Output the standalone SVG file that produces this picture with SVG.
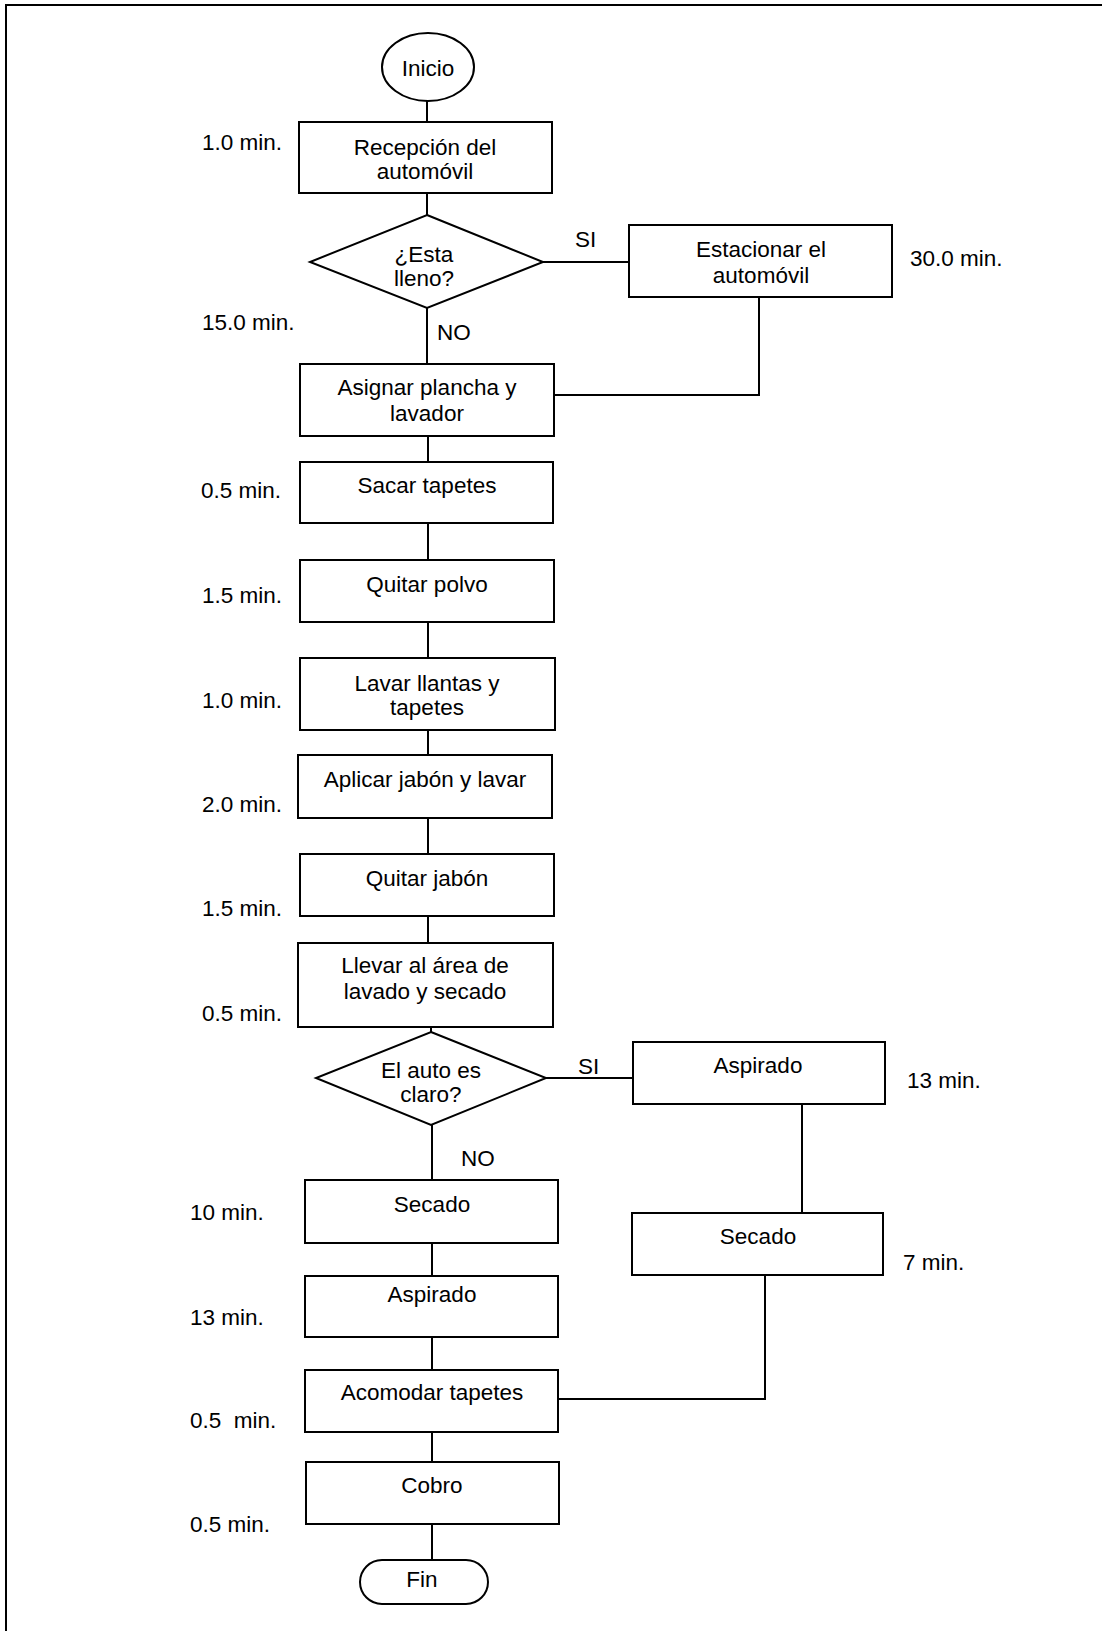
<svg xmlns="http://www.w3.org/2000/svg" width="1102" height="1631" viewBox="0 0 1102 1631">
<style>
.n{fill:#fff;stroke:#000;stroke-width:2}
.c{fill:none;stroke:#000;stroke-width:2}
text{font-family:"Liberation Sans",Arial,sans-serif;font-size:22.5px;fill:#000}
.m{text-anchor:middle}
</style>
<rect width="1102" height="1631" fill="#fff"/>
<g id="frame"><path class="c" d="M6,1631 V5 H1102" stroke-width="2.5"/></g>
<g id="connectors">
<path class="c" d="M427,100 V122"/>
<path class="c" d="M427,193 V215"/>
<path class="c" d="M543,262 H629"/>
<path class="c" d="M759,287 V395 H554"/>
<path class="c" d="M427,308 V364"/>
<path class="c" d="M428,436 V462"/>
<path class="c" d="M428,523 V560"/>
<path class="c" d="M428,622 V658"/>
<path class="c" d="M428,730 V755"/>
<path class="c" d="M428,818 V854"/>
<path class="c" d="M428,916 V943"/>
<path class="c" d="M431,1027 V1032"/>
<path class="c" d="M546,1078 H633"/>
<path class="c" d="M802,1104 V1213"/>
<path class="c" d="M765,1275 V1399 H558"/>
<path class="c" d="M432,1125 V1180"/>
<path class="c" d="M432,1243 V1276"/>
<path class="c" d="M432,1337 V1370"/>
<path class="c" d="M432,1432 V1462"/>
<path class="c" d="M432,1524 V1560"/>
</g>
<g id="inicio"><ellipse class="n" cx="428" cy="67" rx="46" ry="34"/><text class="m" x="428" y="76">Inicio</text></g>
<g id="recepcion"><rect class="n" x="299" y="122" width="253" height="71"/><text class="m" x="425" y="155">Recepción del</text><text class="m" x="425" y="179">automóvil</text></g>
<g id="lleno"><polygon class="n" points="427,215 543,262 427,308 310,262"/><text class="m" x="424" y="262">¿Esta</text><text class="m" x="424" y="286">lleno?</text></g>
<g id="estacionar"><rect class="n" x="629" y="225" width="263" height="72"/><text class="m" x="761" y="257">Estacionar el</text><text class="m" x="761" y="283">automóvil</text></g>
<g id="asignar"><rect class="n" x="300" y="364" width="254" height="72"/><text class="m" x="427" y="395">Asignar plancha y</text><text class="m" x="427" y="421">lavador</text></g>
<g id="sacar"><rect class="n" x="300" y="462" width="253" height="61"/><text class="m" x="427" y="493">Sacar tapetes</text></g>
<g id="polvo"><rect class="n" x="300" y="560" width="254" height="62"/><text class="m" x="427" y="592">Quitar polvo</text></g>
<g id="llantas"><rect class="n" x="300" y="658" width="255" height="72"/><text class="m" x="427" y="691">Lavar llantas y</text><text class="m" x="427" y="715">tapetes</text></g>
<g id="aplicar"><rect class="n" x="298" y="755" width="254" height="63"/><text class="m" x="425" y="787">Aplicar jabón y lavar</text></g>
<g id="quitarjabon"><rect class="n" x="300" y="854" width="254" height="62"/><text class="m" x="427" y="886">Quitar jabón</text></g>
<g id="llevar"><rect class="n" x="298" y="943" width="255" height="84"/><text class="m" x="425" y="973">Llevar al área de</text><text class="m" x="425" y="999">lavado y secado</text></g>
<g id="claro"><polygon class="n" points="431,1032 546,1078 431,1125 316,1078"/><text class="m" x="431" y="1078">El auto es</text><text class="m" x="431" y="1102">claro?</text></g>
<g id="aspirado2"><rect class="n" x="633" y="1042" width="252" height="62"/><text class="m" x="758" y="1073">Aspirado</text></g>
<g id="secado2"><rect class="n" x="632" y="1213" width="251" height="62"/><text class="m" x="758" y="1244">Secado</text></g>
<g id="secado1"><rect class="n" x="305" y="1180" width="253" height="63"/><text class="m" x="432" y="1212">Secado</text></g>
<g id="aspirado1"><rect class="n" x="305" y="1276" width="253" height="61"/><text class="m" x="432" y="1302">Aspirado</text></g>
<g id="acomodar"><rect class="n" x="305" y="1370" width="253" height="62"/><text class="m" x="432" y="1400">Acomodar tapetes</text></g>
<g id="cobro"><rect class="n" x="306" y="1462" width="253" height="62"/><text class="m" x="432" y="1493">Cobro</text></g>
<g id="fin"><rect class="n" x="360" y="1560" width="128" height="44" rx="22"/><text class="m" x="422" y="1587">Fin</text></g>
<g id="labels">
<text x="202" y="150">1.0 min.</text>
<text x="575" y="247">SI</text>
<text x="910" y="266">30.0 min.</text>
<text x="202" y="330">15.0 min.</text>
<text x="437" y="340">NO</text>
<text x="201" y="498">0.5 min.</text>
<text x="202" y="603">1.5 min.</text>
<text x="202" y="708">1.0 min.</text>
<text x="202" y="812">2.0 min.</text>
<text x="202" y="916">1.5 min.</text>
<text x="202" y="1021">0.5 min.</text>
<text x="578" y="1074">SI</text>
<text x="907" y="1088">13 min.</text>
<text x="461" y="1166">NO</text>
<text x="903" y="1270">7 min.</text>
<text x="190" y="1220">10 min.</text>
<text x="190" y="1325">13 min.</text>
<text x="190" y="1428" xml:space="preserve">0.5  min.</text>
<text x="190" y="1532">0.5 min.</text>
</g>
</svg>
